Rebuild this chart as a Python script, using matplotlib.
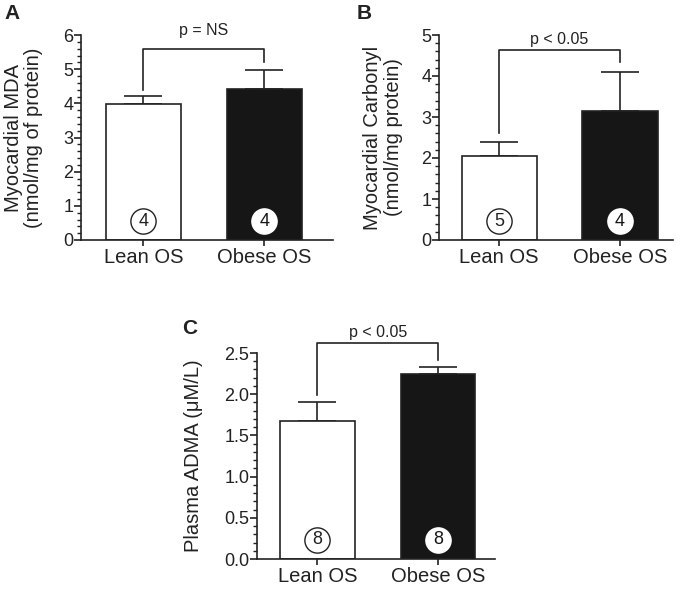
import matplotlib
matplotlib.use("Agg")
import matplotlib.pyplot as plt
from matplotlib.ticker import MultipleLocator, FormatStrFormatter
from matplotlib.transforms import offset_copy

plt.rcParams['font.family'] = ['Liberation Sans', 'DejaVu Sans']

groups = ["Lean OS", "Obese OS"]

mda_mean = [3.97, 4.42]
mda_err = [0.25, 0.55]
mda_n = [4, 4]

carb_mean = [2.06, 3.15]
carb_err = [0.34, 0.95]
carb_n = [5, 4]

adma_mean = [1.68, 2.25]
adma_err = [0.23, 0.08]
adma_n = [8, 8]

TXT = "#222222"
LW = 1.2

fig = plt.figure(figsize=(6.8, 5.9), dpi=100)


def panel(rect, means, errs, ns, ymax, major, minor, fmt, xlim, ylabel,
          ptext, bracket_y, legs, text_y, letter, letter_xy, label_x):
    ax = fig.add_axes(rect)
    x = [0, 1]
    ax.bar(x, means, width=0.62, color=["white", "#161616"],
           edgecolor=TXT, linewidth=LW, zorder=2)
    ax.errorbar(x, means, yerr=[[0, 0], errs], fmt="none", ecolor=TXT,
                elinewidth=LW, capsize=13.5, capthick=LW, zorder=1)
    ax.set_xlim(*xlim)
    ax.set_ylim(0, ymax)
    ax.spines[["top", "right"]].set_visible(False)
    for s in ("left", "bottom"):
        ax.spines[s].set_linewidth(LW)
        ax.spines[s].set_color(TXT)
    ax.yaxis.set_major_locator(MultipleLocator(major))
    ax.yaxis.set_minor_locator(MultipleLocator(minor))
    ax.yaxis.set_major_formatter(FormatStrFormatter(fmt))
    ax.tick_params(axis="y", which="major", length=5, width=LW, color=TXT,
                   labelsize=13, labelcolor=TXT, pad=0.5)
    ax.tick_params(axis="y", which="minor", length=3, width=1.0, color=TXT)
    ax.set_xticks(x)
    ax.set_xticklabels(groups)
    ax.tick_params(axis="x", length=4, width=LW, color=TXT, labelsize=14.5,
                   labelcolor=TXT, pad=2)
    ax.set_ylabel(ylabel, fontsize=14.5, color=TXT, linespacing=1.1)
    ax.yaxis.set_label_coords(label_x, 0.5)
    # bracket
    ax.plot([0, 0, 1, 1], [legs[0], bracket_y, bracket_y, legs[1]],
            color=TXT, lw=LW, clip_on=False)
    ax.text(0.5, text_y, ptext, ha="center", va="center", fontsize=11.5,
            color=TXT, clip_on=False)
    # n circles
    tr = offset_copy(ax.transData, fig=fig, x=0, y=19, units="dots")
    for xi, n in zip(x, ns):
        edge = TXT if xi == 0 else "white"
        tc = TXT if xi == 0 else "#161616"
        ax.scatter([xi], [0], s=330, marker="o", facecolor="white",
                   edgecolor=edge, linewidth=1.0, transform=tr, zorder=5,
                   clip_on=False)
        ax.text(xi, 0, str(n), transform=tr, ha="center", va="center",
                fontsize=13, color=tc, zorder=6)
    fig.text(letter_xy[0] / 680, 1 - letter_xy[1] / 590, letter,
             fontsize=15, fontweight="bold", color=TXT, ha="left", va="top")
    return ax


W, H = 680, 590


def r(x0, x1, y0, y1):
    return [x0 / W, 1 - y1 / H, (x1 - x0) / W, (y1 - y0) / H]


panel(r(81, 333, 35, 240), mda_mean, mda_err, mda_n, 6, 1, 0.2, "%d",
      (-0.516, 1.566), "Myocardial MDA\n(nmol/mg of protein)",
      "p = NS", 5.6, (4.4, 5.2), 6.12, "A", (4, 4), -0.15)

panel(r(439, 673, 35, 240), carb_mean, carb_err, carb_n, 5, 1, 0.2, "%d",
      (-0.496, 1.438), "Myocardial Carbonyl\n(nmol/mg protein)",
      "p < 0.05", 4.63, (2.6, 4.35), 4.9, "B", (357, 4), -0.155)

panel(r(257, 495, 353, 559), adma_mean, adma_err, adma_n, 2.5, 0.5, 0.1,
      "%.1f", (-0.502, 1.473), "Plasma ADMA (\u03bcM/L)",
      "p < 0.05", 2.62, (1.99, 2.41), 2.75, "C", (182, 319), -0.225)

fig.savefig("out.png", dpi=100)
